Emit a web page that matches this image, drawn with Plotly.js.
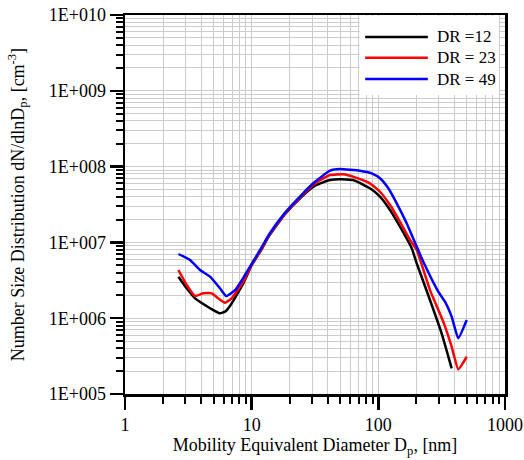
<!DOCTYPE html>
<html>
<head>
<meta charset="utf-8">
<script src="https://cdn.plot.ly/plotly-3.0.1.min.js"></script>
<style>html,body{margin:0;padding:0;background:#fff}#chart{width:524px;height:460px}</style>
</head>
<body>
<div id="chart"></div>
<script>
const seriesNames = ["DR =12", "DR = 23", "DR = 49"];
const seriesColors = ["#000000", "#ff0000", "#0000ff"];

const dr12_x = [2.64, 3.07, 3.57, 4.15, 4.98, 5.62, 6.16, 6.74, 8.59, 10.0, 12.07, 13.5, 18.3, 24.8, 31.6, 41.5, 51.4, 65.4, 85.9, 103.1, 123.7, 148.3, 183.4, 200.9, 255.7, 316, 379.3];
const dr12_y = [3.53e6, 2.48e6, 1.83e6, 1.54e6, 1.28e6, 1.16e6, 1.22e6, 1.45e6, 2.88e6, 5.0e6, 8.3e6, 1.17e7, 2.35e7, 4.0e7, 5.6e7, 6.65e7, 6.79e7, 6.52e7, 5.17e7, 4.01e7, 2.67e7, 1.61e7, 8.36e6, 5.30e6, 1.74e6, 6.32e5, 2.18e5];

const dr23_x = [2.64, 3.07, 3.57, 4.15, 4.84, 5.45, 6.16, 6.95, 8.59, 10.0, 12.07, 13.5, 18.3, 24.8, 31.6, 41.5, 52.9, 65.4, 85.9, 103.1, 123.7, 148.3, 177.8, 200.9, 255.7, 325.6, 379.3, 427.6, 498.7];
const dr23_y = [4.32e6, 2.74e6, 1.96e6, 2.13e6, 2.13e6, 1.83e6, 1.60e6, 1.83e6, 3.03e6, 5.1e6, 8.4e6, 1.19e7, 2.38e7, 4.1e7, 6.0e7, 7.74e7, 7.91e7, 7.22e7, 6.02e7, 4.66e7, 3.11e7, 1.87e7, 1.08e7, 7.94e6, 2.35e6, 9.0e5, 4.21e5, 2.12e5, 3.10e5];

const dr49_x = [2.64, 3.26, 3.91, 4.69, 5.62, 6.3, 7.43, 8.39, 10.06, 12.07, 13.63, 18.3, 24.8, 31.6, 41.5, 49.8, 71.6, 88.6, 103.1, 119.9, 139.7, 167.4, 200.9, 226.5, 297.4, 335.9, 379.3, 427.6, 498.7];
const dr49_y = [7.03e6, 5.86e6, 4.32e6, 3.53e6, 2.48e6, 1.96e6, 2.36e6, 3.19e6, 5.3e6, 8.77e6, 1.25e7, 2.45e7, 4.25e7, 6.3e7, 8.83e7, 9.29e7, 8.83e7, 8.16e7, 7.01e7, 5.17e7, 3.28e7, 1.79e7, 8.77e6, 5.56e6, 2.24e6, 1.65e6, 1.05e6, 5.43e5, 9.46e5];

const xTickVals = [1, 10, 100, 1000];
const xTickText = ["1", "10", "100", "1000"];
const yTickVals = [1e5, 1e6, 1e7, 1e8, 1e9, 1e10];
const yTickText = ["1E+005", "1E+006", "1E+007", "1E+008", "1E+009", "1E+010"];

function minorVals(lo, hi) {
  const v = [];
  for (let d = lo; d < hi; d++) for (let k = 2; k <= 9; k++) v.push(k * Math.pow(10, d));
  return v;
}

const xs = [dr12_x, dr23_x, dr49_x];
const ys = [dr12_y, dr23_y, dr49_y];
const traces = seriesNames.map((n, i) => ({
  x: xs[i], y: ys[i], name: n, type: 'scatter', mode: 'lines',
  line: {color: seriesColors[i], width: 2.5, shape: 'spline', smoothing: 0.4}
}));

const FONT = '"Liberation Serif", "Times New Roman", Times, serif';
const gridColor = '#cccccc';

// custom legend (box, line samples, labels) in paper coordinates
const legLeft = 0.618, legRight = 0.984, legTop = 0.997, legBottom = 0.789;
const legLineX0 = 0.632, legLineX1 = 0.797, legTextX = 0.816;
const legRowsY = [0.942, 0.887, 0.831];
const shapes = [{type: 'rect', xref: 'paper', yref: 'paper', x0: legLeft, x1: legRight, y0: legBottom, y1: legTop,
  fillcolor: '#fff', line: {width: 0}, layer: 'above'}];
const annotations = [];
seriesNames.forEach((n, i) => {
  shapes.push({type: 'line', xref: 'paper', yref: 'paper', x0: legLineX0, x1: legLineX1, y0: legRowsY[i], y1: legRowsY[i],
    line: {color: seriesColors[i], width: 2.5}, layer: 'above'});
  annotations.push({xref: 'paper', yref: 'paper', x: legTextX, y: legRowsY[i], xanchor: 'left', yanchor: 'middle',
    text: n, showarrow: false, font: {family: FONT, size: 17, color: '#000'}});
});

const layout = {
  width: 524, height: 460,
  margin: {l: 125, r: 19, t: 15, b: 66},
  paper_bgcolor: '#fff', plot_bgcolor: '#fff',
  font: {family: FONT, size: 18, color: '#000'},
  showlegend: false,
  shapes: shapes,
  annotations: annotations,
  xaxis: {
    type: 'log', range: [0, 3], tickmode: 'array', tickvals: xTickVals, ticktext: xTickText,
    ticks: 'outside', ticklen: 13, tickwidth: 2.5, tickcolor: '#000',
    showline: true, linewidth: 2.5, linecolor: '#000', mirror: true,
    showgrid: true, gridcolor: gridColor, gridwidth: 1, zeroline: false,
    minor: {tickmode: 'array', tickvals: minorVals(0, 3), ticks: 'outside', ticklen: 7, tickwidth: 2, tickcolor: '#000', showgrid: true, gridcolor: gridColor, gridwidth: 1},
    tickfont: {family: FONT, size: 18},
    title: {text: 'Mobility Equivalent Diameter D<sub>p</sub>, [nm]', font: {family: FONT, size: 18}, standoff: 2},
    automargin: false
  },
  yaxis: {
    type: 'log', range: [5, 10], tickmode: 'array', tickvals: yTickVals, ticktext: yTickText,
    ticks: 'outside', ticklen: 13, tickwidth: 2.5, tickcolor: '#000',
    showline: true, linewidth: 2.5, linecolor: '#000', mirror: true,
    showgrid: true, gridcolor: gridColor, gridwidth: 1, zeroline: false,
    minor: {tickmode: 'array', tickvals: minorVals(5, 10), ticks: 'outside', ticklen: 7, tickwidth: 2, tickcolor: '#000', showgrid: true, gridcolor: gridColor, gridwidth: 1},
    tickfont: {family: FONT, size: 18},
    title: {text: 'Number Size Distribution dN/dlnD<sub>p</sub>, [cm<sup>-3</sup>]', font: {family: FONT, size: 18}, standoff: 20},
    automargin: false
  }
};

Plotly.newPlot('chart', traces, layout, {displayModeBar: false, staticPlot: true});
</script>
</body>
</html>
